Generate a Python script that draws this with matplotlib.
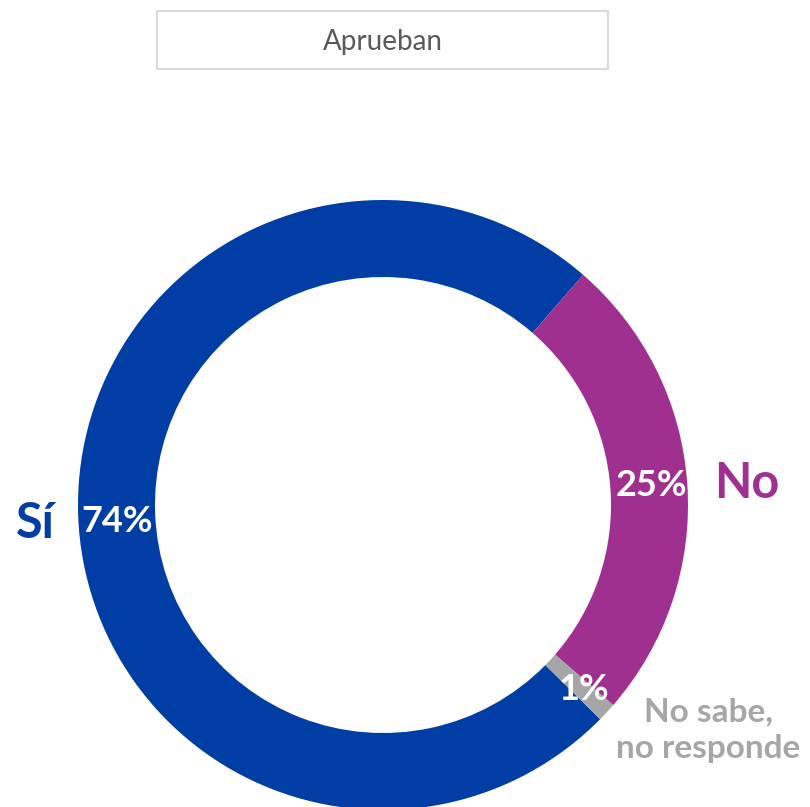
import matplotlib.pyplot as plt
from matplotlib.patches import Rectangle

# Datos
categorias = ['Sí', 'No', 'No sabe,\nno responde']
valores = [74, 25, 1]
etiquetas_pct = ['74%', '25%', '1%']
colores = ['#003DA5', '#A0308F', '#A6A6A6']
titulo = 'Aprueban'

plt.rcParams['font.family'] = ['Lato', 'DejaVu Sans']

fig = plt.figure(figsize=(8.1, 8.07), dpi=100)
ax = fig.add_axes([0, 0, 1, 1])

# Donut (coordenadas en píxeles, y hacia arriba)
cx, cy, r = 383, 807 - 505, 305
ax.pie(valores, colors=colores, startangle=-44.6, counterclock=False,
       center=(cx, cy), radius=r, wedgeprops=dict(width=77, linewidth=0),
       frame=True)
ax.set_xlim(0, 810)
ax.set_ylim(0, 807)
ax.set_aspect('equal')
ax.axis('off')

# Porcentajes dentro del anillo
pos_pct = [(117, 521), (651, 486), (584, 690)]
for txt, (x, y) in zip(etiquetas_pct, pos_pct):
    ax.text(x, 807 - y, txt, color='white', fontsize=26, fontweight='bold',
            ha='center', va='center')

# Etiquetas de categoría
ax.text(35, 807 - 523, categorias[0], color=colores[0], fontsize=35,
        fontweight='bold', ha='center', va='center')
ax.text(747, 807 - 484, categorias[1], color=colores[1], fontsize=35,
        fontweight='bold', ha='center', va='center')
ax.text(708, 807 - 730, categorias[2], color=colores[2], fontsize=24,
        fontweight='bold', ha='center', va='center', linespacing=1.3)

# Caja del título
ax.add_patch(Rectangle((157, 807 - 69), 451, 58, fill=False,
                       edgecolor='#D9D9D9', linewidth=1.5))
ax.text(383, 807 - 42, titulo, color='#595959', fontsize=20,
        ha='center', va='center')

fig.savefig('out.png', dpi=100)
